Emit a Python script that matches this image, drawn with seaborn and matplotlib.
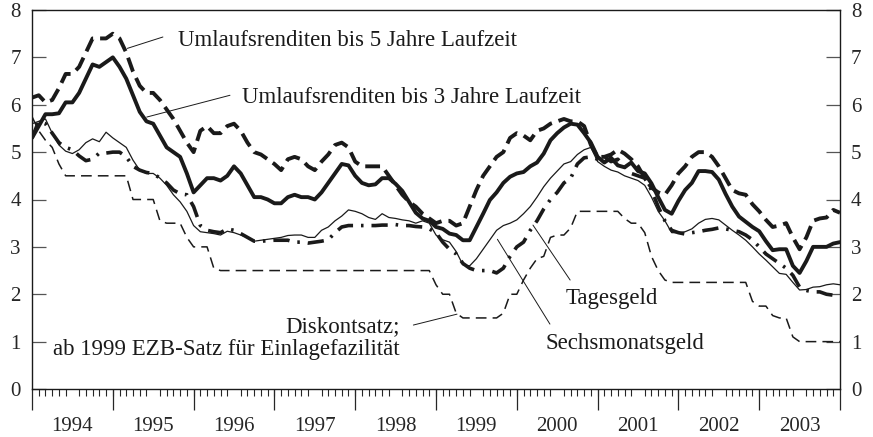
import numpy as np
import pandas as pd
import matplotlib
matplotlib.use("Agg")
import matplotlib.pyplot as plt
import seaborn as sns

# monthly values, Jan 1994 .. Jan 2004
umlauf5 = [6.15, 6.2, 6.05, 6.1, 6.35, 6.65, 6.65, 6.8, 7.1, 7.4,
           7.4, 7.4, 7.5, 7.4, 7.1, 6.7, 6.4, 6.25, 6.25, 6.1,
           5.9, 5.7, 5.45, 5.2, 5.0, 5.45, 5.55, 5.4, 5.4, 5.55,
           5.6, 5.45, 5.2, 5.0, 4.95, 4.85, 4.75, 4.62, 4.85, 4.9,
           4.85, 4.7, 4.62, 4.8, 4.95, 5.15, 5.2, 5.1, 4.8, 4.7,
           4.7, 4.7, 4.7, 4.5, 4.3, 4.1, 3.95, 3.85, 3.7, 3.6,
           3.5, 3.55, 3.55, 3.45, 3.5, 3.85, 4.2, 4.5, 4.7, 4.9,
           5.0, 5.3, 5.4, 5.35, 5.25, 5.45, 5.5, 5.6, 5.65, 5.7,
           5.65, 5.65, 5.55, 5.15, 4.9, 4.9, 4.95, 5.05, 4.97, 4.85,
           4.7, 4.45, 4.25, 4.15, 4.1, 4.3, 4.55, 4.7, 4.9, 5.0,
           5.0, 4.9, 4.7, 4.45, 4.2, 4.13, 4.1, 3.9, 3.75, 3.57,
           3.42, 3.45, 3.5, 3.2, 2.95, 3.2, 3.55, 3.6, 3.62, 3.78,
           3.72]

umlauf3 = [5.3, 5.55, 5.8, 5.8, 5.82, 6.05, 6.05, 6.25, 6.55, 6.85,
           6.8, 6.9, 7.0, 6.8, 6.55, 6.2, 5.85, 5.65, 5.6, 5.35,
           5.1, 5.0, 4.9, 4.55, 4.15, 4.3, 4.45, 4.45, 4.4, 4.5,
           4.7, 4.55, 4.3, 4.05, 4.05, 4.0, 3.92, 3.92, 4.05, 4.1,
           4.05, 4.05, 4.0, 4.15, 4.35, 4.55, 4.75, 4.72, 4.5, 4.35,
           4.3, 4.32, 4.45, 4.45, 4.33, 4.18, 3.95, 3.72, 3.6, 3.55,
           3.42, 3.38, 3.28, 3.25, 3.14, 3.14, 3.42, 3.7, 3.99, 4.15,
           4.35, 4.48, 4.55, 4.58, 4.7, 4.78, 4.97, 5.25, 5.4, 5.52,
           5.6, 5.58, 5.4, 5.2, 4.9, 4.78, 4.88, 4.72, 4.68, 4.78,
           4.6, 4.55, 4.34, 4.05, 3.78, 3.7, 3.97, 4.2, 4.35, 4.6,
           4.6, 4.58, 4.42, 4.12, 3.85, 3.64, 3.53, 3.42, 3.33, 3.12,
           2.93, 2.95, 2.95, 2.6, 2.45, 2.7, 3.0, 3.0, 3.0, 3.07,
           3.1]

sechsmonat = [5.6, 5.65, 5.7, 5.4, 5.15, 5.02, 4.97, 5.05, 5.2, 5.28,
              5.22, 5.42, 5.3, 5.2, 5.1, 4.83, 4.62, 4.55, 4.55, 4.45,
              4.3, 4.1, 3.95, 3.75, 3.45, 3.32, 3.3, 3.28, 3.25, 3.33,
              3.3, 3.25, 3.2, 3.12, 3.14, 3.16, 3.18, 3.2, 3.24, 3.25,
              3.25, 3.2, 3.2, 3.35, 3.42, 3.55, 3.65, 3.78, 3.75, 3.7,
              3.62, 3.58, 3.7, 3.62, 3.6, 3.57, 3.55, 3.5, 3.55, 3.5,
              3.25, 3.15, 3.1, 2.9, 2.62, 2.6, 2.75, 2.95, 3.15, 3.35,
              3.45, 3.5, 3.57, 3.7, 3.85, 4.05, 4.27, 4.45, 4.6, 4.75,
              4.8, 4.95, 5.05, 5.1, 4.8, 4.7, 4.62, 4.58, 4.5, 4.45,
              4.4, 4.3, 4.05, 3.75, 3.55, 3.3, 3.3, 3.32, 3.38, 3.5,
              3.58, 3.6, 3.57, 3.46, 3.35, 3.25, 3.14, 3.0, 2.85, 2.72,
              2.58, 2.44, 2.42, 2.25, 2.09, 2.1, 2.15, 2.16, 2.2, 2.22,
              2.2]

tagesgeld = [5.3, 5.65, 5.6, 5.4, 5.2, 5.1, 5.05, 4.92, 4.82, 4.85,
             4.98, 4.98, 5.0, 5.0, 4.9, 4.7, 4.62, 4.57, 4.55, 4.45,
             4.35, 4.2, 4.12, 4.1, 3.85, 3.45, 3.35, 3.32, 3.3, 3.38,
             3.35, 3.28, 3.2, 3.12, 3.12, 3.13, 3.14, 3.14, 3.14, 3.1,
             3.1, 3.08, 3.1, 3.12, 3.15, 3.3, 3.42, 3.45, 3.45, 3.45,
             3.45, 3.45, 3.46, 3.46, 3.47, 3.45, 3.45, 3.43, 3.42, 3.38,
             3.3, 3.1, 2.95, 2.85, 2.65, 2.55, 2.5, 2.5, 2.5, 2.45,
             2.55, 2.8, 3.0, 3.1, 3.35, 3.55, 3.8, 4.0, 4.15, 4.35,
             4.45, 4.75, 4.88, 4.9, 4.85, 4.9, 4.8, 4.85, 4.7, 4.55,
             4.5, 4.45, 4.2, 3.85, 3.55, 3.35, 3.3, 3.27, 3.3, 3.32,
             3.35, 3.37, 3.4, 3.38, 3.35, 3.32, 3.25, 3.15, 3.0, 2.85,
             2.75, 2.65, 2.55, 2.4, 2.15, 2.08, 2.05, 2.05, 2.0, 1.98,
             2.0]

diskont = [5.75, 5.45, 5.25, 5.1, 4.75, 4.5, 4.5, 4.5, 4.5, 4.5,
           4.5, 4.5, 4.5, 4.5, 4.5, 4.0, 4.0, 4.0, 4.0, 3.55,
           3.5, 3.5, 3.5, 3.2, 3.0, 3.0, 3.0, 2.55, 2.5, 2.5,
           2.5, 2.5, 2.5, 2.5, 2.5, 2.5, 2.5, 2.5, 2.5, 2.5,
           2.5, 2.5, 2.5, 2.5, 2.5, 2.5, 2.5, 2.5, 2.5, 2.5,
           2.5, 2.5, 2.5, 2.5, 2.5, 2.5, 2.5, 2.5, 2.5, 2.5,
           2.2, 2.0, 2.0, 1.6, 1.5, 1.5, 1.5, 1.5, 1.5, 1.5,
           1.6, 2.0, 2.0, 2.3, 2.55, 2.75, 2.8, 3.2, 3.25, 3.25,
           3.4, 3.75, 3.75, 3.75, 3.75, 3.75, 3.75, 3.75, 3.6, 3.5,
           3.5, 3.3, 2.8, 2.5, 2.3, 2.25, 2.25, 2.25, 2.25, 2.25,
           2.25, 2.25, 2.25, 2.25, 2.25, 2.25, 2.25, 1.85, 1.75, 1.75,
           1.55, 1.5, 1.5, 1.1, 1.0, 1.0, 1.0, 1.0, 1.0, 1.0,
           1.0]

years = list(range(1994, 2004))
year_labels = [str(y) for y in years]

t = 1994 + np.arange(len(umlauf5)) / 12
df = pd.DataFrame({"t": t, "u5": umlauf5, "u3": umlauf3, "sechs": sechsmonat,
                   "tages": tagesgeld, "disk": diskont})

sns.set_style("ticks")
plt.rcParams["font.family"] = ["Liberation Serif", "DejaVu Serif"]

fig = plt.figure(figsize=(8.73, 4.37), dpi=100)
ax = fig.add_axes([32 / 873, 1 - 389 / 437, 808 / 873, 379 / 437])

k = "#1a1a1a"
sns.lineplot(data=df, x="t", y="disk", ax=ax, color=k, lw=1.1)
ax.lines[-1].set_dashes([7, 4])
sns.lineplot(data=df, x="t", y="sechs", ax=ax, color=k, lw=0.9)
sns.lineplot(data=df, x="t", y="tages", ax=ax, color=k, lw=2.6)
ax.lines[-1].set_dashes([4.5, 2.2, 0.7, 2.2])
sns.lineplot(data=df, x="t", y="u3", ax=ax, color=k, lw=2.8)
sns.lineplot(data=df, x="t", y="u5", ax=ax, color=k, lw=2.8)
ax.lines[-1].set_dashes([3.8, 1.8])

ax.set_xlim(1994, 2004)
ax.set_ylim(0, 8)
ax.set_xlabel("")
ax.set_ylabel("")

# y axis: labels on both sides, ticks pointing inward
ax.set_yticks(range(0, 9))
ax.tick_params(axis="y", direction="in", length=10, width=0.9, color="#555555",
               left=True, right=True, labelleft=True, labelright=True,
               labelsize=15, pad=8)

# x axis: year labels in the middle of each year, monthly small ticks
ax.set_xticks([y + 0.5 for y in years])
ax.set_xticklabels(year_labels)
ax.set_xticks(1994 + np.arange(1, 120) / 12, minor=True)
ax.tick_params(axis="x", which="major", length=0, labelsize=15, pad=20)
ax.tick_params(axis="x", which="minor", direction="out", length=5, width=0.8)
sec = ax.secondary_xaxis("bottom")
sec.set_xticks(list(range(1994, 2005)))
sec.set_xticklabels([])
sec.tick_params(length=15, width=0.9, direction="out")
sec.spines["bottom"].set_visible(False)

for s in ax.spines.values():
    s.set_linewidth(1.0)
    s.set_color(k)

fs = 16.5
ax.text(1995.81, 7.36, "Umlaufsrenditen bis 5 Jahre Laufzeit", fontsize=fs, va="center", color=k)
ax.plot([1995.18, 1995.62], [7.19, 7.43], color=k, lw=0.7)
ax.text(1996.6, 6.16, "Umlaufsrenditen bis 3 Jahre Laufzeit", fontsize=fs, va="center", color=k)
ax.plot([1995.42, 1996.45], [5.74, 6.2], color=k, lw=0.7)
ax.text(1998.55, 1.31, "Diskontsatz;", fontsize=fs, va="center", ha="right", color=k)
ax.text(1998.55, 0.84, "ab 1999 EZB-Satz für Einlagefazilität", fontsize=fs, va="center", ha="right", color=k)
ax.plot([1998.72, 1999.26], [1.35, 1.58], color=k, lw=0.7)
ax.text(2000.6, 1.92, "Tagesgeld", fontsize=fs, va="center", color=k)
ax.plot([2000.2, 2000.66], [3.46, 2.3], color=k, lw=0.7)
ax.text(2000.36, 0.97, "Sechsmonatsgeld", fontsize=fs, va="center", color=k)
ax.plot([1999.76, 2000.41], [3.16, 1.37], color=k, lw=0.7)

fig.savefig("out.png", dpi=100)
